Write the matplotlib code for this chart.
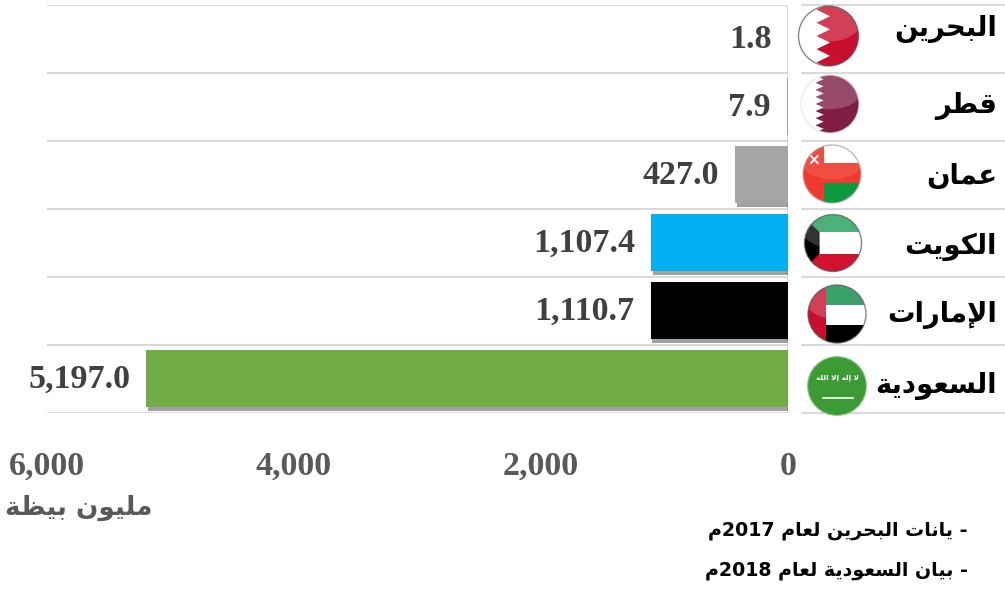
import re
import numpy as np
import matplotlib
matplotlib.use('Agg')
import matplotlib.pyplot as plt
import matplotlib.patheffects as pe
from matplotlib.patches import Circle, Rectangle, Polygon, Ellipse

paises = ['البحرين', 'قطر', 'عمان', 'الكويت', 'الإمارات', 'السعودية']
valores = [1.8, 7.9, 427.0, 1107.4, 1110.7, 5197.0]
cores = ['#A5A5A5', '#A5A5A5', '#A5A5A5', '#00B0F0', '#000000', '#70AD47']
ticks = [6000, 4000, 2000, 0]
rotulo_eixo = 'مليون بيضة'
notas = ['- يانات البحرين لعام 2017م', '- بيان السعودية لعام 2018م']

# matplotlib nao faz shaping de arabe: formas (isolada, final, inicial, medial)
FORMAS = {
    'ا': (0xFE8D, 0xFE8E), 'إ': (0xFE87, 0xFE88), 'ر': (0xFEAD, 0xFEAE),
    'و': (0xFEED, 0xFEEE), 'د': (0xFEA9, 0xFEAA), 'ة': (0xFE93, 0xFE94),
    'ل': (0xFEDD, 0xFEDE, 0xFEDF, 0xFEE0), 'ب': (0xFE8F, 0xFE90, 0xFE91, 0xFE92),
    'ح': (0xFEA1, 0xFEA2, 0xFEA3, 0xFEA4), 'ي': (0xFEF1, 0xFEF2, 0xFEF3, 0xFEF4),
    'ن': (0xFEE5, 0xFEE6, 0xFEE7, 0xFEE8), 'ق': (0xFED5, 0xFED6, 0xFED7, 0xFED8),
    'ط': (0xFEC1, 0xFEC2, 0xFEC3, 0xFEC4), 'ع': (0xFEC9, 0xFECA, 0xFECB, 0xFECC),
    'م': (0xFEE1, 0xFEE2, 0xFEE3, 0xFEE4), 'ك': (0xFED9, 0xFEDA, 0xFEDB, 0xFEDC),
    'ت': (0xFE95, 0xFE96, 0xFE97, 0xFE98), 'س': (0xFEB1, 0xFEB2, 0xFEB3, 0xFEB4),
    'ض': (0xFEC5, 0xFEC6, 0xFEC7, 0xFEC8), 'ه': (0xFEE9, 0xFEEA, 0xFEEB, 0xFEEC),
}
LAM_ALEF = {'إ': (0xFEF9, 0xFEFA), 'ا': (0xFEFB, 0xFEFC)}


def arabe(texto):
    saida = []
    liga = False  # a letra anterior liga com a proxima
    i = 0
    while i < len(texto):
        c = texto[i]
        if c == 'ل' and i + 1 < len(texto) and texto[i + 1] in LAM_ALEF:
            saida.append(chr(LAM_ALEF[texto[i + 1]][1 if liga else 0]))
            liga = False
            i += 2
            continue
        if c not in FORMAS:
            saida.append(c)
            liga = False
            i += 1
            continue
        f = FORMAS[c]
        prox = texto[i + 1] if i + 1 < len(texto) else ''
        vai_ligar = len(f) == 4 and prox in FORMAS
        if liga and vai_ligar:
            saida.append(chr(f[3]))
        elif liga:
            saida.append(chr(f[1]))
        elif vai_ligar:
            saida.append(chr(f[2]))
        else:
            saida.append(chr(f[0]))
        liga = vai_ligar
        i += 1
    visual = ''.join(reversed(saida))
    return re.sub(r'\d+', lambda m: m.group(0)[::-1], visual)


W, H = 1005, 589
fig = plt.figure(figsize=(W / 100, H / 100), dpi=100, facecolor='white')

# eixo principal: x=0 em 788 px, 6000 em 47 px; linhas de 4.5 a 412.5 px
ax = fig.add_axes([47 / W, 1 - 412.5 / H, 741 / W, 408 / H])
y = np.arange(len(paises))
for i, (v, c) in enumerate(zip(valores, cores)):
    b = ax.barh(i, v, height=0.84, color=c, zorder=3)
    b[0].set_path_effects([pe.SimplePatchShadow(offset=(1, -3), shadow_rgbFace='#555555', alpha=0.55),
                           pe.Normal()])
    ax.annotate(f'{v:,.1f}', (v, i), xytext=(-11.5, -0.7), textcoords='offset points',
                ha='right', va='center', family='Liberation Serif', fontweight='bold',
                fontsize=24.5, color='#404040')
ax.set_xlim(6000, 0)
ax.set_ylim(len(paises) - 0.5, -0.5)
ax.hlines(np.arange(len(paises) + 1) - 0.5, 6000, 0, color='#D9D9D9', lw=1.5, zorder=1)
ax.axvline(0, color='#D9D9D9', lw=2.2, zorder=2)
for s in ax.spines.values():
    s.set_visible(False)
ax.set_yticks([])
ax.set_xticks(ticks)
ax.set_xticklabels([f'{t:,}' for t in ticks], family='Liberation Serif', fontweight='bold',
                   fontsize=24.5, color='#595959')
ax.tick_params(axis='x', length=0, pad=27.5)

# camada em pixels para bandeiras e textos
ov = fig.add_axes([0, 0, 1, 1], facecolor='none')
ov.set_xlim(0, W)
ov.set_ylim(H, 0)
ov.axis('off')

for k in range(len(paises) + 1):
    py = 4.5 + k * 68
    ov.plot([802, W], [py, py], color='#D9D9D9', lw=1.5, zorder=1)

altura_nome = [29, 106, 176, 247, 315, 386]
for nome, py in zip(paises, altura_nome):
    ov.text(997, py, arabe(nome), ha='right', va='center',
            family='DejaVu Sans', fontweight='bold', fontsize=19.8, color='black')

ov.text(152, 508, arabe(rotulo_eixo), ha='right', va='center', family='DejaVu Sans',
        fontweight='bold', fontsize=18.8, color='#595959')
ov.text(968, 531, arabe(notas[0]), ha='right', va='center', family='DejaVu Sans',
        fontweight='bold', fontsize=13.7, color='black')
ov.text(968, 571, arabe(notas[1]), ha='right', va='center', family='DejaVu Sans',
        fontweight='bold', fontsize=13.7, color='black')


def retangulos(cx, cy, r, lista, clip):
    for x0, y0, x1, y1, cor in lista:
        p = Rectangle((cx + x0 * r, cy + y0 * r), (x1 - x0) * r, (y1 - y0) * r, color=cor, lw=0, zorder=5)
        ov.add_patch(p)
        p.set_clip_path(clip)


def serrilha(cx, cy, r, dentes, base, ponta, cor, clip):
    pts = [(cx + 1.1 * r, cy - 1.1 * r), (cx + base * r, cy - 1.1 * r)]
    passo = 2.2 / dentes
    for d in range(dentes):
        yy = -1.1 + d * passo
        pts.append((cx + ponta * r, cy + (yy + passo / 2) * r))
        pts.append((cx + base * r, cy + (yy + passo) * r))
    pts.append((cx + 1.1 * r, cy + 1.1 * r))
    p = Polygon(pts, closed=True, color=cor, lw=0, zorder=5)
    ov.add_patch(p)
    p.set_clip_path(clip)


def bandeira(cx, cy, r, tipo, fundo='white', borda='#555555', brilho=0.2):
    disco = Circle((cx, cy), r, facecolor=fundo, edgecolor='none', zorder=4)
    ov.add_patch(disco)
    if tipo == 'bahrein':
        serrilha(cx, cy, r, 5, 0.05, -0.4, '#C8102E', disco)
    elif tipo == 'qatar':
        serrilha(cx, cy, r, 9, -0.22, -0.5, '#7F1D45', disco)
    elif tipo == 'oman':
        retangulos(cx, cy, r, [(-1, -1, 1, 1, '#F03A2E'), (-0.26, -1, 1, -0.37, 'white'),
                               (-0.26, 0.32, 1, 1, '#0C9A3E')], disco)
        ov.plot([cx - 0.72 * r, cx - 0.5 * r], [cy - 0.62 * r, cy - 0.38 * r], color='white', lw=1.4, zorder=6)
        ov.plot([cx - 0.5 * r, cx - 0.72 * r], [cy - 0.62 * r, cy - 0.38 * r], color='white', lw=1.4, zorder=6)
    elif tipo == 'kuwait':
        retangulos(cx, cy, r, [(-1, -1, 1, -0.37, '#1FA055'), (-1, -0.37, 1, 0.37, 'white'),
                               (-1, 0.37, 1, 1, '#D0122F')], disco)
        p = Polygon([(cx - 1.1 * r, cy - r), (cx - 0.47 * r, cy - 0.37 * r), (cx - 0.47 * r, cy + 0.37 * r),
                     (cx - 1.1 * r, cy + r)], closed=True, color='black', lw=0, zorder=5)
        ov.add_patch(p)
        p.set_clip_path(disco)
    elif tipo == 'emirados':
        retangulos(cx, cy, r, [(-0.38, -1, 1, -0.3, '#0B8A45'), (-0.38, -0.3, 1, 0.37, 'white'),
                               (-0.38, 0.37, 1, 1, 'black'), (-1, -1, -0.38, 1, '#C8102E')], disco)
    elif tipo == 'saudi':
        ov.text(cx, cy - 0.27 * r, arabe('لا إله إلا الله'), ha='center', va='center', color='white',
                family='DejaVu Sans', fontweight='bold', fontsize=5.2, zorder=6)
        ov.plot([cx - 0.48 * r, cx + 0.55 * r], [cy + 0.41 * r] * 2, color='white', lw=1.2, zorder=6)
    # brilho na metade de cima
    g = Ellipse((cx, cy - 0.42 * r), 2.1 * r, 1.2 * r, color='white', alpha=brilho, lw=0, zorder=7)
    ov.add_patch(g)
    g.set_clip_path(disco)
    ov.add_patch(Circle((cx, cy), r, facecolor='none', edgecolor=borda, lw=1.0, alpha=0.7, zorder=8))


bandeira(828.5, 36, 30, 'bahrein')
bandeira(830, 104, 29, 'qatar', borda='#E5E5E5')
bandeira(832, 174, 29, 'oman', borda='#AAAAAA', brilho=0.1)
bandeira(833, 243, 28.5, 'kuwait')
bandeira(837, 314, 29, 'emirados')
bandeira(837, 386, 29.5, 'saudi', fundo='#3C9B35', borda='#9ACB95', brilho=0)

plt.savefig('out.png', dpi=100)
